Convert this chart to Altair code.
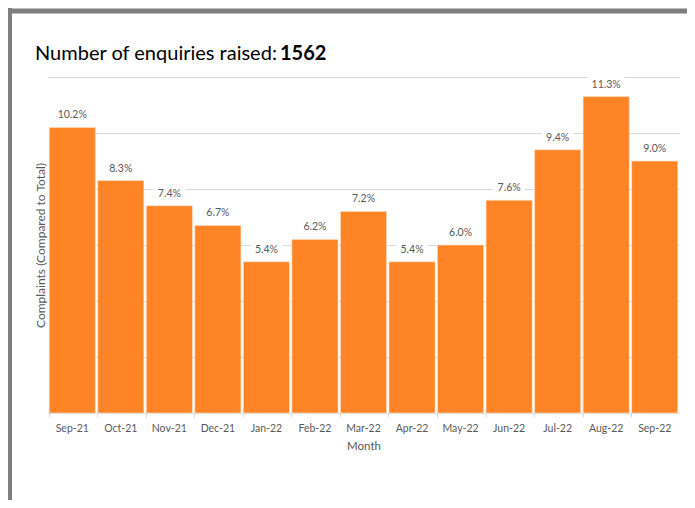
import altair as alt
import pandas as pd

months = ["Sep-21", "Oct-21", "Nov-21", "Dec-21", "Jan-22", "Feb-22", "Mar-22",
          "Apr-22", "May-22", "Jun-22", "Jul-22", "Aug-22", "Sep-22"]
values = [10.2, 8.3, 7.4, 6.7, 5.4, 6.2, 7.2, 5.4, 6.0, 7.6, 9.4, 11.3, 9.0]
grid_values = [0, 2, 4, 6, 8, 10, 12]
title_text = "Number of enquiries raised:"
title_bold = "1562"

df = pd.DataFrame({"Month": months, "Value": values})
df["Label"] = [f"{v:.1f}%" for v in values]
df["Len"] = df["Label"].str.len()

FONT = "Lato"
GRAY = "#595959"
ORANGE = "#FF8426"

xenc = alt.X("Month:N", sort=months,
             scale=alt.Scale(paddingInner=0.05, paddingOuter=0.025),
             axis=alt.Axis(title="Month", labelAngle=0, labelFont=FONT, labelFontSize=10.5,
                           labelColor=GRAY, titleFont=FONT, titleFontSize=11.5,
                           titleFontWeight="normal", titleColor=GRAY, domainColor="#D9D9D9",
                           tickColor="#D9D9D9", tickSize=4, bandPosition=0,
                           labelPadding=6, titlePadding=7, grid=False))
yscale = alt.Scale(domain=[0, 12])

bars = alt.Chart(df).mark_bar(color=ORANGE, stroke="#FFE3CC", strokeWidth=0.6).encode(
    x=xenc,
    y=alt.Y("Value:Q", scale=yscale,
            axis=alt.Axis(title="Complaints (Compared to Total)", labels=False, ticks=False,
                          domain=False, values=grid_values,
                          gridColor="#D9D9D9", gridWidth=1, titleFont=FONT,
                          titleFontSize=12, titleFontWeight="normal", titleColor=GRAY,
                          titlePadding=1)),
)

def label_bg(n, w):
    return alt.Chart(df).transform_filter(alt.datum.Len == n).mark_rect(
        color="white", width=w, yOffset=-20, y2Offset=-4).encode(
        x=alt.X("Month:N", sort=months),
        y=alt.Y("Value:Q", scale=yscale),
        y2="Value:Q",
    )

bg4 = label_bg(4, 32)
bg5 = label_bg(5, 37)

labels = alt.Chart(df).mark_text(font=FONT, fontSize=10.5, color=GRAY, dy=-12,
                                 baseline="middle").encode(
    x=alt.X("Month:N", sort=months),
    y=alt.Y("Value:Q", scale=yscale),
    text="Label:N",
)

one = alt.Data(values=[{"a": 1}])
frame_left = alt.Chart(one).mark_rule(color="#7F7F7F", strokeWidth=5).encode(
    x=alt.value(-38.5), y=alt.value(-69), y2=alt.value(430))
frame_top = alt.Chart(one).mark_rule(color="#7F7F7F", strokeWidth=5).encode(
    x=alt.value(-41), x2=alt.value(660), y=alt.value(-66))

t1 = alt.Chart(one).mark_text(font=FONT, fontSize=20, color="#000000", align="left",
                              baseline="alphabetic").encode(
    x=alt.value(-13), y=alt.value(-17.5), text=alt.value(title_text))
t2 = alt.Chart(one).mark_text(font=FONT, fontSize=20, fontWeight="bold", color="#000000",
                              align="left", baseline="alphabetic").encode(
    x=alt.value(232), y=alt.value(-17.5), text=alt.value(title_bold))

chart = alt.layer(bars, bg4, bg5, labels, frame_left, frame_top, t1, t2).properties(
    width=631, height=336,
    autosize=alt.AutoSizeParams(type="none"),
    padding={"left": 40, "top": 69, "right": 8, "bottom": 87},
).configure_view(stroke=None)

chart.save("out.html", embed_options={"renderer": "svg", "actions": False})
